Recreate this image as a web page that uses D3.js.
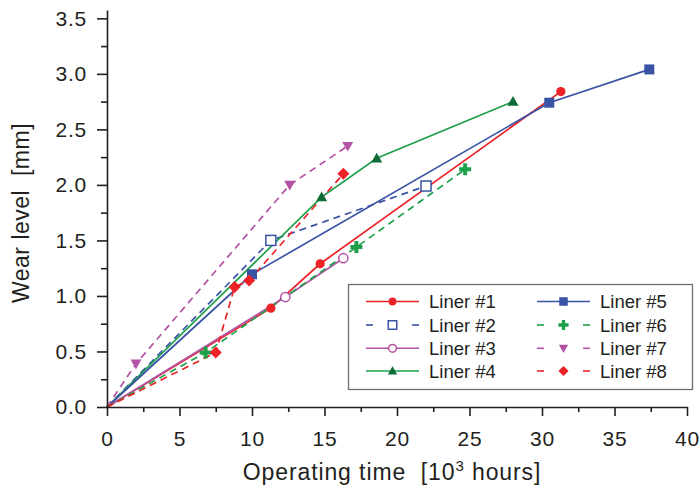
<!DOCTYPE html>
<html><head><meta charset="utf-8">
<script src="https://cdn.jsdelivr.net/npm/d3@7/dist/d3.min.js"></script>
<style>
html,body{margin:0;padding:0;background:#fff;}
svg{display:block;font-family:"Liberation Sans",Arial,sans-serif;}
</style></head>
<body><svg id="chart" width="700" height="489"></svg>
<script>
// ---- data ----
const xTicks = [0,5,10,15,20,25,30,35,40];
const yTicks = [0,0.5,1.0,1.5,2.0,2.5,3.0,3.5];
const xMinor = [2.5,7.5,12.5,17.5,22.5,27.5,32.5,37.5];
const yMinor = [0.25,0.75,1.25,1.75,2.25,2.75,3.25];
const liner1 = [[0,0],[11.3,0.89],[14.7,1.29],[31.3,2.84]];
const liner2 = [[0,0],[11.3,1.50],[22.0,1.99]];
const liner3 = [[0,0],[12.3,0.99],[16.3,1.34]];
const liner4 = [[0,0],[14.8,1.89],[18.6,2.24],[28.0,2.75]];
const liner5 = [[0,0],[10.0,1.195],[30.5,2.74],[37.4,3.04]];
const liner6 = [[0,0],[6.8,0.49],[17.2,1.44],[24.7,2.14]];
const liner7 = [[0,0],[2.0,0.39],[12.6,2.0],[16.6,2.35]];
const liner8 = [[0,0],[7.5,0.49],[8.8,1.08],[9.8,1.14],[16.3,2.10]];
const names = ["Liner #1","Liner #2","Liner #3","Liner #4","Liner #5","Liner #6","Liner #7","Liner #8"];

const series = [
  {name:names[0], data:liner1, line:"#ec2227", fill:"#ec2227", stroke:"#ec2227", dash:null, sym:"circle", open:false},
  {name:names[1], data:liner2, line:"#3953a4", fill:"none", stroke:"#3953a4", dash:"7,5", sym:"square", open:true},
  {name:names[2], data:liner3, line:"#b452a6", fill:"none", stroke:"#b452a6", dash:null, sym:"circle", open:true},
  {name:names[3], data:liner4, line:"#1ea04b", fill:"#0f6b37", stroke:"#0f6b37", dash:null, sym:"triangle", open:false},
  {name:names[4], data:liner5, line:"#3953a4", fill:"#3953a4", stroke:"#3953a4", dash:null, sym:"square", open:false},
  {name:names[5], data:liner6, line:"#1ea04b", fill:"#1ea04b", stroke:"#1ea04b", dash:"7,5", sym:"plus", open:false},
  {name:names[6], data:liner7, line:"#b452a6", fill:"#b452a6", stroke:"#b452a6", dash:"7,5", sym:"down", open:false},
  {name:names[7], data:liner8, line:"#ec2227", fill:"#ec2227", stroke:"#ec2227", dash:"7,5", sym:"diamond", open:false}
];

const svg = d3.select("#chart");
const x = d3.scaleLinear().domain([0,40]).range([107,687]);
const y = d3.scaleLinear().domain([0,3.575]).range([407,10]);
const axisColor = "#231f20";

// lines
const lineGen = d3.line().x(d=>x(d[0])).y(d=>y(d[1]));
const plot = svg.append("g");
series.forEach(s=>{
  plot.append("path").datum(s.data).attr("d",lineGen)
    .attr("fill","none").attr("stroke",s.line).attr("stroke-width",1.7)
    .attr("stroke-dasharray",s.dash);
});

function drawMarker(g, s, cx, cy, scale){
  const k = scale||1;
  let sel;
  if(s.sym==="circle"){
    sel = g.append("circle").attr("cx",cx).attr("cy",cy).attr("r",4.6*k);
  } else if(s.sym==="square"){
    const h=5*k;
    sel = g.append("rect").attr("x",cx-h).attr("y",cy-h).attr("width",2*h).attr("height",2*h);
  } else if(s.sym==="triangle"){
    const h=5.5*k;
    sel = g.append("path").attr("d",`M${cx},${cy-h}L${cx+h},${cy+h*0.75}L${cx-h},${cy+h*0.75}Z`);
  } else if(s.sym==="down"){
    const h=5.5*k;
    sel = g.append("path").attr("d",`M${cx},${cy+h}L${cx+h},${cy-h*0.75}L${cx-h},${cy-h*0.75}Z`);
  } else if(s.sym==="diamond"){
    const h=6*k;
    sel = g.append("path").attr("d",`M${cx},${cy-h}L${cx+h},${cy}L${cx},${cy+h}L${cx-h},${cy}Z`);
  } else if(s.sym==="plus"){
    const a=6*k, b=2*k;
    sel = g.append("path").attr("d",`M${cx-b},${cy-a}H${cx+b}V${cy-b}H${cx+a}V${cy+b}H${cx+b}V${cy+a}H${cx-b}V${cy+b}H${cx-a}V${cy-b}H${cx-b}Z`);
  }
  if(s.open){
    sel.attr("fill","#fff").attr("stroke",s.stroke).attr("stroke-width",1.5);
  } else {
    sel.attr("fill",s.fill).attr("stroke","none");
  }
}

series.forEach(s=>{
  s.data.slice(1).forEach(d=>drawMarker(plot,s,x(d[0]),y(d[1])));
});

// axes
svg.append("g").attr("transform","translate(0,407)")
  .call(d3.axisBottom(x).tickValues(xTicks).tickFormat(d3.format("d")).tickSize(9).tickPadding(15).tickSizeOuter(0));
svg.append("g").attr("transform","translate(0,407)")
  .call(d3.axisBottom(x).tickValues(xMinor).tickFormat("").tickSize(5).tickSizeOuter(0))
  .select(".domain").remove();
svg.append("g").attr("transform","translate(107,0)")
  .call(d3.axisLeft(y).tickValues(yTicks).tickFormat(d3.format(".1f")).tickSize(10).tickPadding(10).tickSizeOuter(0));
svg.append("g").attr("transform","translate(107,0)")
  .call(d3.axisLeft(y).tickValues(yMinor).tickFormat("").tickSize(6).tickSizeOuter(0))
  .select(".domain").remove();
svg.selectAll(".domain,.tick line").attr("stroke",axisColor).attr("stroke-width",1.6);
svg.selectAll(".tick text").attr("fill",axisColor).attr("font-size",21)
  .attr("letter-spacing",0.8)
  .attr("font-family","'Liberation Sans',Arial,sans-serif");

// axis titles
const xt = svg.append("text").attr("x",392).attr("y",480).attr("text-anchor","middle")
  .attr("font-size",23).attr("letter-spacing",0.9).attr("fill",axisColor);
xt.append("tspan").text("Operating time\u00A0\u00A0[10");
xt.append("tspan").attr("font-size",15).attr("dy",-9).text("3");
xt.append("tspan").attr("dy",9).text(" hours]");
svg.append("text").attr("transform","translate(29,213) rotate(-90)")
  .attr("text-anchor","middle").attr("font-size",23).attr("letter-spacing",0.5).attr("fill",axisColor)
  .text("Wear level\u00A0\u00A0[mm]");

// legend
const lg = svg.append("g");
lg.append("rect").attr("x",348.5).attr("y",284.5).attr("width",344).attr("height",105)
  .attr("fill","#fff").attr("stroke","#6d6e71").attr("stroke-width",1.3);
const rowY = [301.5,325,348.3,371];
series.forEach((s,i)=>{
  const col = i<4?0:1, row = i%4;
  const x0 = col===0?366:537, x1 = col===0?419:590, xm=(x0+x1)/2, yy=rowY[row];
  if(s.dash){
    lg.append("line").attr("x1",x0).attr("x2",x0+7).attr("y1",yy).attr("y2",yy).attr("stroke",s.line).attr("stroke-width",1.6);
    lg.append("line").attr("x1",x1-7).attr("x2",x1).attr("y1",yy).attr("y2",yy).attr("stroke",s.line).attr("stroke-width",1.6);
  } else {
    lg.append("line").attr("x1",x0).attr("x2",x1).attr("y1",yy).attr("y2",yy).attr("stroke",s.line).attr("stroke-width",1.6);
  }
  drawMarker(lg,s,xm,yy,0.85);
  lg.append("text").attr("x",col===0?429:600).attr("y",yy+6.5).attr("font-size",18.5)
    .attr("fill",axisColor).text(s.name);
});
</script></body></html>
